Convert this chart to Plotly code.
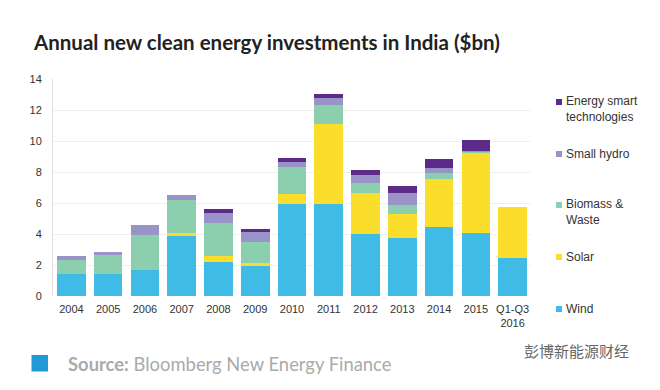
import plotly.graph_objects as go

categories = ["2004", "2005", "2006", "2007", "2008", "2009", "2010",
              "2011", "2012", "2013", "2014", "2015", "Q1-Q3<br>2016"]
wind = [1.45, 1.45, 1.66, 3.88, 2.18, 1.92, 5.93, 5.91, 4.03, 3.75, 4.46, 4.08, 2.42]
solar = [0.0, 0.0, 0.0, 0.20, 0.39, 0.22, 0.63, 5.20, 2.59, 1.51, 3.09, 5.17, 3.34]
biomass = [0.86, 1.18, 2.27, 2.11, 2.11, 1.35, 1.74, 1.23, 0.65, 0.61, 0.37, 0.05, 0.0]
small_hydro = [0.28, 0.24, 0.67, 0.32, 0.69, 0.61, 0.33, 0.44, 0.54, 0.75, 0.32, 0.08, 0.0]
energy_smart = [0.0, 0.0, 0.0, 0.0, 0.22, 0.21, 0.26, 0.28, 0.32, 0.47, 0.58, 0.69, 0.0]

series = [
    ("Wind", wind, "#40bbe6"),
    ("Solar", solar, "#fbdd2c"),
    ("Biomass &<br>Waste", biomass, "#8ccfae"),
    ("Small hydro", small_hydro, "#9a93c8"),
    ("Energy smart<br>technologies", energy_smart, "#5c2a88"),
]

# page has an 8px body margin; design coordinates below are window pixels
OFF = 8
FW, FH = 652, 382
L, R, T, B = 53, 531, 79, 296  # plot area in window pixels
W = R - L
H = B - T


def px_x(x):
    return (x - L) / W


def px_y(y):
    return (B - y) / H


fig = go.Figure()
for name, vals, col in series:
    fig.add_trace(go.Bar(x=categories, y=vals, name=name, marker_color=col,
                         marker_line_width=0))

fig.update_layout(
    barmode="stack",
    bargap=0.22,
    width=FW, height=FH,
    margin=dict(l=L - OFF, r=FW - (R - OFF), t=T - OFF, b=FH - (B - OFF)),
    plot_bgcolor="white", paper_bgcolor="white",
    showlegend=False,
    font=dict(family="Liberation Sans, Arial, sans-serif", size=11, color="#333333"),
)
fig.update_yaxes(range=[0, 14], dtick=2, showgrid=True, gridcolor="#f0f0f0",
                 showline=True, linecolor="#e0e0e0", linewidth=1,
                 zeroline=False, ticks="", tickfont=dict(size=11, color="#333333"),
                 ticklabelstandoff=8)
fig.update_xaxes(showline=False, ticks="", tickfont=dict(size=11, color="#333333"),
                 ticklabelstandoff=5)

# title
fig.add_annotation(text="<b>Annual new clean energy investments in India ($bn)</b>",
                   xref="paper", yref="paper", x=px_x(31), y=px_y(42),
                   xanchor="left", yanchor="middle", showarrow=False,
                   font=dict(family="Lato, sans-serif", size=20.5, color="#222222"))

legend_items = [
    ("Energy smart<br>technologies", "#5c2a88", 102, 109),
    ("Small hydro", "#9a93c8", 154, 154),
    ("Biomass &<br>Waste", "#8ccfae", 205, 212),
    ("Solar", "#fbdd2c", 257, 257),
    ("Wind", "#40bbe6", 309, 309),
]
for text, col, ysq, ytxt in legend_items:
    fig.add_shape(type="rect", xref="paper", yref="paper",
                  x0=px_x(556), x1=px_x(562), y0=px_y(ysq + 3), y1=px_y(ysq - 3),
                  fillcolor=col, line_width=0)
    fig.add_annotation(text=text, xref="paper", yref="paper",
                       x=px_x(564), y=px_y(ytxt), xanchor="left", yanchor="middle",
                       align="left", showarrow=False,
                       font=dict(size=12, color="#333333"))

# footer
fig.add_shape(type="rect", xref="paper", yref="paper",
              x0=px_x(31.5), x1=px_x(48), y0=px_y(371.5), y1=px_y(355),
              fillcolor="#1f9ad6", line_width=0)
fig.add_annotation(text="<b>Source:</b> Bloomberg New Energy Finance",
                   xref="paper", yref="paper", x=px_x(66), y=px_y(364),
                   xanchor="left", yanchor="middle", showarrow=False,
                   font=dict(family="Lato, sans-serif", size=18.4, color="#aaaaaa"))
fig.add_annotation(text="彭博新能源财经",
                   xref="paper", yref="paper", x=px_x(522), y=px_y(350),
                   xanchor="left", yanchor="middle", showarrow=False,
                   font=dict(family="Noto Sans CJK SC", size=15, color="#666666"))

fig.write_html("out.html")
